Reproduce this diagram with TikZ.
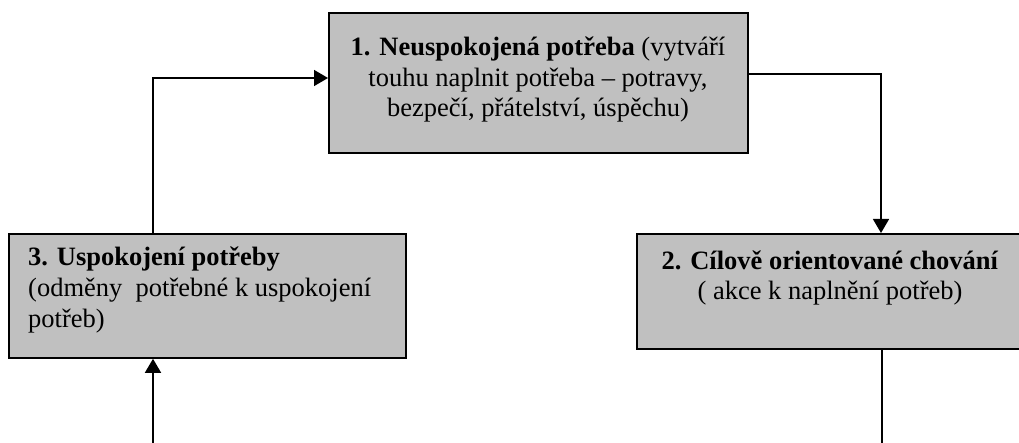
\documentclass[tikz,border=0pt]{standalone}
\usepackage{fontspec}
\setmainfont{Liberation Serif}
\usetikzlibrary{arrows.meta}
\definecolor{boxgray}{HTML}{C0C0C0}
\tikzset{
  box/.style={draw=black, fill=boxgray, line width=1.8pt, rectangle, anchor=north west, inner sep=0pt},
  txt/.style={font=\fontsize{26.5}{30.5}\selectfont, inner sep=0pt, anchor=base},
  txtl/.style={txt, anchor=base west},
  arr/.style={line width=1.5pt, -{Triangle[length=14pt,width=16pt]}},
  ln/.style={line width=1.5pt}
}
\begin{document}
\begin{tikzpicture}[x=1pt,y=-1pt]
\useasboundingbox (0,0) rectangle (1019,443);
\clip (0,0) rectangle (1019,443);
% boxes
\node[box, minimum width=419pt, minimum height=140pt] (top) at (328,12) {};
\node[box, minimum width=397pt, minimum height=124pt] (b3) at (8,233) {};
\node[box, minimum width=390pt, minimum height=115pt] (b2) at (636,233) {};
% texts
\node[txt] (t1a) at (538,56) {\textbf{1. Neuspokojená potřeba} (vytváří};
\node[txt] (t1b) at (538,87) {touhu naplnit potřeba – potravy,};
\node[txt] (t1c) at (538,117) {bezpečí, přátelství, úspěchu)};
\node[txtl] (t3a) at (28,266) {\textbf{3. Uspokojení potřeby}};
\node[txtl] (t3b) at (28,297) {(odměny\ \ potřebné k uspokojení};
\node[txtl] (t3c) at (28,327) {potřeb)};
\node[txt] (t2a) at (830,270) {\textbf{2. Cílově orientované chování}};
\node[txt] (t2b) at (830,300) {( akce k naplnění potřeb)};
% connector points
\coordinate (c1) at (881,74);
\coordinate (c2) at (153,78);
\coordinate (c3) at (153,443);
\coordinate (c4) at (882,443);
% connectors
\draw[arr] (top.east |- c1) -| (c1 |- b2.north);
\draw[arr] (c2 |- b3.north) |- (top.west |- c2);
\draw[arr] (c3) -- (c3 |- b3.south);
\draw[ln] (c4 |- b2.south) -- (c4);
\end{tikzpicture}
\end{document}
